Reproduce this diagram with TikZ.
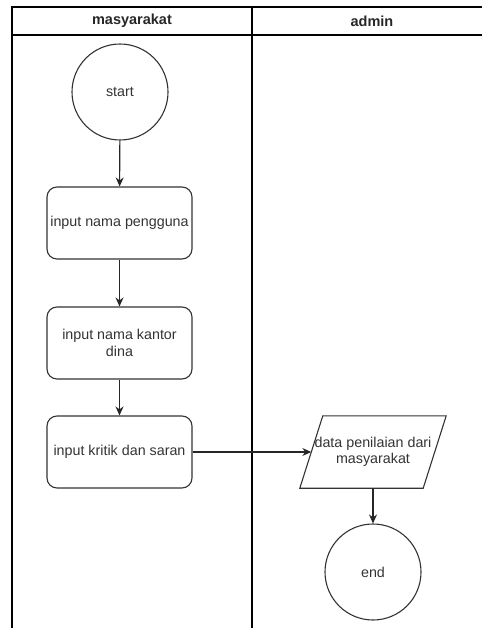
\documentclass[tikz,border=0pt]{standalone}
\usepackage{fontspec}
\setmainfont{Liberation Sans}
\usetikzlibrary{arrows.meta,calc}
\begin{document}
\begin{tikzpicture}[x=1pt,y=-1pt,
  lane/.style={line width=1.4pt,draw=black},
  lbl/.style={font=\fontsize{14.3}{16.5}\selectfont,text=black!80,align=center},
  head/.style={font=\fontsize{14.5}{16}\selectfont\bfseries,text=black!85},
  proc/.style={lbl,draw=black!80,line width=1.1pt,rounded corners=10pt,
    minimum width=145pt,minimum height=72pt,inner sep=1pt},
  term/.style={lbl,draw=black!80,line width=1.1pt,circle,minimum size=96pt,inner sep=0pt},
  flow/.style={draw=black!85,line width=1.1pt,-{Stealth[length=9pt,width=8pt]}}]
\useasboundingbox (0,0) rectangle (482,628);
% swimlane frame
\draw[lane] (12,628) -- (12,7) -- (482,7);
\draw[lane] (12,35) -- (482,35);
\draw[lane] (252,7) -- (252,628);
\node[head] (h1) at (132,21) {masyarakat};
\node[head] (h2) at (372,21) {admin};
% masyarakat lane
\node[term] (start) at (120,92) {start};
\node[proc] (p1) at (119.5,223) {input nama pengguna};
\node[proc] (p2) at (119.5,343) {input nama kantor\\dina};
\node[proc] (p3) at (119.5,452) {input kritik dan saran};
% admin lane
\node[lbl,minimum width=123pt,minimum height=72pt,inner sep=0pt] (data) at (373,452) {data penilaian dari\\masyarakat};
\draw[draw=black!80,line width=1.1pt]
  ($(data.north west)+(11.5,0)$) -- ($(data.north east)+(11.5,0)$)
  -- ($(data.south east)+(-11.5,0)$) -- ($(data.south west)+(-11.5,0)$) -- cycle;
\node[term] (end) at (373,572) {end};
% connectors
\draw[flow] (start) -- (p1);
\draw[flow] (p1) -- (p2);
\draw[flow] (p2) -- (p3);
\draw[flow] (p3) -- (data.west);
\draw[flow] (data) -- (end);
\end{tikzpicture}
\end{document}
